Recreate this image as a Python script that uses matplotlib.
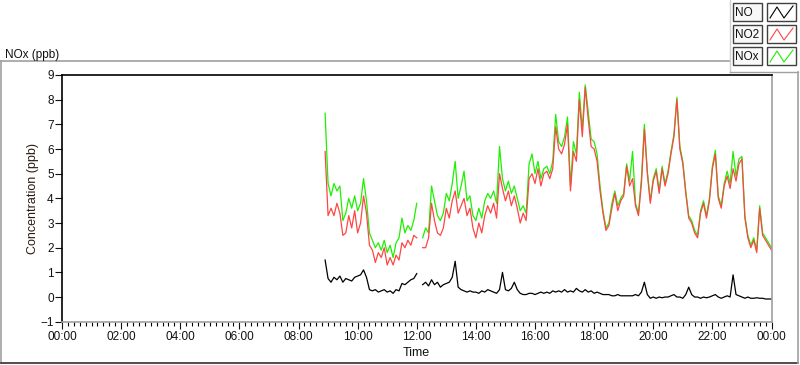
import numpy as np
import matplotlib
matplotlib.use("Agg")
import matplotlib.pyplot as plt
from matplotlib.lines import Line2D
from matplotlib.patches import Rectangle

# ---------------- data (hours since midnight, 6-min samples) ----------------
t_start, t_step = 8.9, 0.1
no2 = [5.9, 3.3, 3.6, 3.3, 3.8, 3.4, 2.5, 2.6, 3.3, 2.8,
       3.5, 2.6, 3.0, 4.1, 3.4, 2.1, 1.9, 1.4, 1.8, 1.6,
       2.0, 1.3, 1.6, 1.3, 1.7, 1.5, 2.2, 2.0, 2.3, 2.1,
       2.5, 2.4, np.nan, 2.0, 2.0, 2.4, 3.8, 3.1, 2.6, 2.5,
       2.8, 3.6, 3.2, 3.9, 4.3, 3.4, 3.7, 4.0, 3.3, 3.6,
       2.8, 2.4, 3.0, 2.6, 3.3, 3.7, 3.4, 3.8, 3.2, 5.0,
       4.4, 3.9, 4.3, 3.7, 4.1, 3.6, 3.0, 3.4, 3.1, 4.8,
       5.0, 4.6, 5.2, 4.5, 5.0, 5.1, 4.8, 5.2, 6.9, 6.0,
       5.8, 6.2, 7.0, 4.3, 5.9, 5.5, 8.0, 6.5, 8.5, 7.2,
       6.1, 6.0, 5.5, 4.3, 3.4, 2.7, 2.9, 3.6, 4.2, 3.5,
       3.9, 4.1, 5.3, 4.5, 4.8, 3.7, 3.3, 4.6, 6.8, 5.0,
       3.8, 4.7, 5.1, 4.2, 5.2, 4.5, 5.0, 5.8, 6.5, 8.0,
       6.0, 5.4, 4.2, 3.2, 3.0, 2.6, 2.4, 3.4, 3.8, 3.2,
       3.9, 5.2, 5.8, 4.0, 3.6, 4.5, 4.9, 4.4, 5.2, 4.7,
       5.4, 5.6, 3.2, 2.4, 2.0, 2.3, 1.8, 3.6, 2.5, 2.3,
       2.1, 1.9]
nox = [7.45, 4.6, 4.1, 4.6, 4.3, 4.5, 3.1, 3.4, 4.0, 3.6,
       4.1, 3.5, 3.8, 4.8, 3.9, 2.6, 2.3, 2.0, 2.2, 1.9,
       2.3, 1.8, 2.1, 1.6, 2.2, 2.4, 3.2, 2.6, 2.9, 2.7,
       3.1, 3.8, np.nan, 2.4, 2.8, 2.6, 4.5, 3.9, 3.3, 3.1,
       3.4, 4.2, 3.9, 4.6, 5.5, 4.0, 4.5, 5.1, 3.9, 4.1,
       3.3, 3.1, 3.6, 3.2, 3.9, 4.2, 4.0, 4.3, 3.8, 6.1,
       4.8, 4.3, 4.7, 4.2, 4.5, 4.0, 3.5, 3.7, 3.4, 5.4,
       5.8, 5.0, 5.5, 4.8, 5.2, 5.3, 5.0, 5.5, 7.4, 6.3,
       6.1, 6.5, 7.3, 4.5, 6.3, 5.8, 8.3, 6.8, 8.6, 7.5,
       6.4, 6.3, 5.8, 4.5, 3.5, 2.8, 3.0, 3.8, 4.3, 3.7,
       4.0, 4.2, 5.4, 4.7, 5.9, 3.8, 3.4, 4.8, 7.0, 5.1,
       3.9, 4.8, 5.2, 4.3, 5.3, 4.6, 5.1, 5.9, 6.6, 8.1,
       6.1, 5.5, 4.3, 3.3, 3.1, 2.7, 2.5, 3.5, 3.9, 3.3,
       4.0, 5.3, 5.95, 4.1, 3.7, 4.6, 5.1, 4.6, 5.9, 4.9,
       5.6, 5.7, 3.3, 2.5, 2.1, 2.4, 1.9, 3.7, 2.6, 2.4,
       2.2, 2.0]
no = [1.5, 0.75, 0.6, 0.8, 0.7, 0.85, 0.6, 0.75, 0.7, 0.65,
      0.8, 0.85, 0.9, 1.1, 0.8, 0.3, 0.25, 0.3, 0.2, 0.25,
      0.3, 0.2, 0.25, 0.15, 0.3, 0.25, 0.55, 0.5, 0.6, 0.7,
      0.75, 0.95, np.nan, 0.5, 0.6, 0.45, 0.7, 0.5, 0.6, 0.4,
      0.5, 0.55, 0.6, 0.8, 1.45, 0.4, 0.3, 0.25, 0.2, 0.25,
      0.2, 0.2, 0.15, 0.25, 0.2, 0.3, 0.25, 0.2, 0.15, 0.3,
      1.0, 0.3, 0.25, 0.35, 0.6, 0.3, 0.15, 0.1, 0.1, 0.15,
      0.15, 0.1, 0.15, 0.2, 0.15, 0.2, 0.15, 0.25, 0.2, 0.25,
      0.2, 0.3, 0.2, 0.25, 0.2, 0.35, 0.25, 0.2, 0.3, 0.2,
      0.25, 0.15, 0.2, 0.15, 0.1, 0.1, 0.1, 0.05, 0.05, 0.1,
      0.05, 0.05, 0.05, 0.05, 0.05, 0.1, 0.05, 0.2, 0.6, 0.1,
      -0.05, 0.0, -0.05, 0.0, -0.03, 0.0, 0.0, 0.05, 0.1, 0.0,
      0.0, -0.05, 0.1, 0.4, 0.1, 0.0, 0.0, -0.05, 0.0, -0.03,
      0.0, 0.05, 0.1, 0.0, -0.05, 0.0, 0.05, 0.0, 0.9, 0.1,
      0.05, 0.0, -0.05, 0.0, -0.05, -0.05, -0.03, -0.05, -0.05, -0.08,
      -0.08, -0.08]
series_names = ["NO", "NO2", "NOx"]
series_colors = ["#000000", "#ff4646", "#1ef000"]
x_tick_hours = list(range(0, 25, 2))
x_tick_labels = ["00:00", "02:00", "04:00", "06:00", "08:00", "10:00", "12:00",
                 "14:00", "16:00", "18:00", "20:00", "22:00", "00:00"]
y_ticks = list(range(-1, 10))

# ---------------- figure ----------------
plt.rcParams['font.family'] = ['Liberation Sans', 'DejaVu Sans']
W, H = 800, 365
fig = plt.figure(figsize=(W / 100, H / 100), dpi=100)
fig.patch.set_facecolor("white")

def fx(px):
    return px / W

def fy(py):
    return 1 - py / H

# outer panel frame
fig.add_artist(Line2D([fx(1), fx(730)], [fy(61), fy(61)], color="#a0a0a0", lw=1.2))
fig.add_artist(Line2D([fx(1), fx(1)], [fy(61), fy(363)], color="#a0a0a0", lw=1.2))
fig.add_artist(Line2D([fx(1), fx(798)], [fy(363), fy(363)], color="#303030", lw=1.2))
fig.add_artist(Line2D([fx(798), fx(798)], [fy(72), fy(363)], color="#a0a0a0", lw=1.2))
fig.add_artist(Line2D([fx(730), fx(730)], [fy(0), fy(72)], color="#d0d0d0", lw=1.0))
fig.add_artist(Line2D([fx(730), fx(798)], [fy(72), fy(72)], color="#a0a0a0", lw=1.0))

fig.text(fx(5), fy(55), "NOx (ppb)", fontsize=8.5, ha="left", va="center", color="#111111")

# legend boxes
rows_y = [3, 25, 47]
for name, col, yy in zip(series_names, series_colors, rows_y):
    fig.add_artist(Rectangle((fx(733), fy(yy + 18)), fx(29), 18 / H, facecolor="#f8f8f8",
                             edgecolor="#404040", lw=1.0))
    fig.text(fx(735), fy(yy + 9.5), name, fontsize=8.5, ha="left", va="center", color="#111111")
    fig.add_artist(Rectangle((fx(767), fy(yy + 18)), fx(29), 18 / H, facecolor="white",
                             edgecolor="#404040", lw=1.0))
    xs = [fx(770), fx(777), fx(784), fx(793)]
    ys = [fy(yy + 15), fy(yy + 4), fy(yy + 15), fy(yy + 3)]
    fig.add_artist(Line2D(xs, ys, color=col, lw=0.8))

# plot area
ax = fig.add_axes([fx(62), fy(321.7), fx(771.5) - fx(62), fy(75) - fy(321.7)])
t = np.round(t_start + t_step * np.arange(len(no2)), 2)

ax.plot(t, nox, color=series_colors[2], lw=0.9)
ax.plot(t, no2, color=series_colors[1], lw=0.9)
ax.plot(t, no, color=series_colors[0], lw=0.9)

ax.set_xlim(0, 24)
ax.set_ylim(-1, 9)
ax.set_xticks(x_tick_hours)
ax.set_xticklabels(x_tick_labels)
ax.set_xticks(np.arange(0, 24.01, 0.2), minor=True)
ax.set_yticks(y_ticks)
ax.tick_params(axis="x", which="major", length=5, width=0.8, labelsize=8.5, pad=1.5, colors="#111111")
ax.tick_params(axis="x", which="minor", length=3, width=0.8)
ax.tick_params(axis="y", which="major", length=5, width=0.8, labelsize=8.5, pad=1, colors="#111111")
for s in ["left", "top"]:
    ax.spines[s].set_color("black")
    ax.spines[s].set_linewidth(1.2)
for s in ["right", "bottom"]:
    ax.spines[s].set_color("#a0a0a0")
    ax.spines[s].set_linewidth(1.2)

ax.set_xlabel("Time", fontsize=9, labelpad=3, color="#111111")
ax.set_ylabel("Concentration (ppb)", fontsize=9, labelpad=1, color="#2a1a14")

fig.savefig("out.png", dpi=100, facecolor="white")
